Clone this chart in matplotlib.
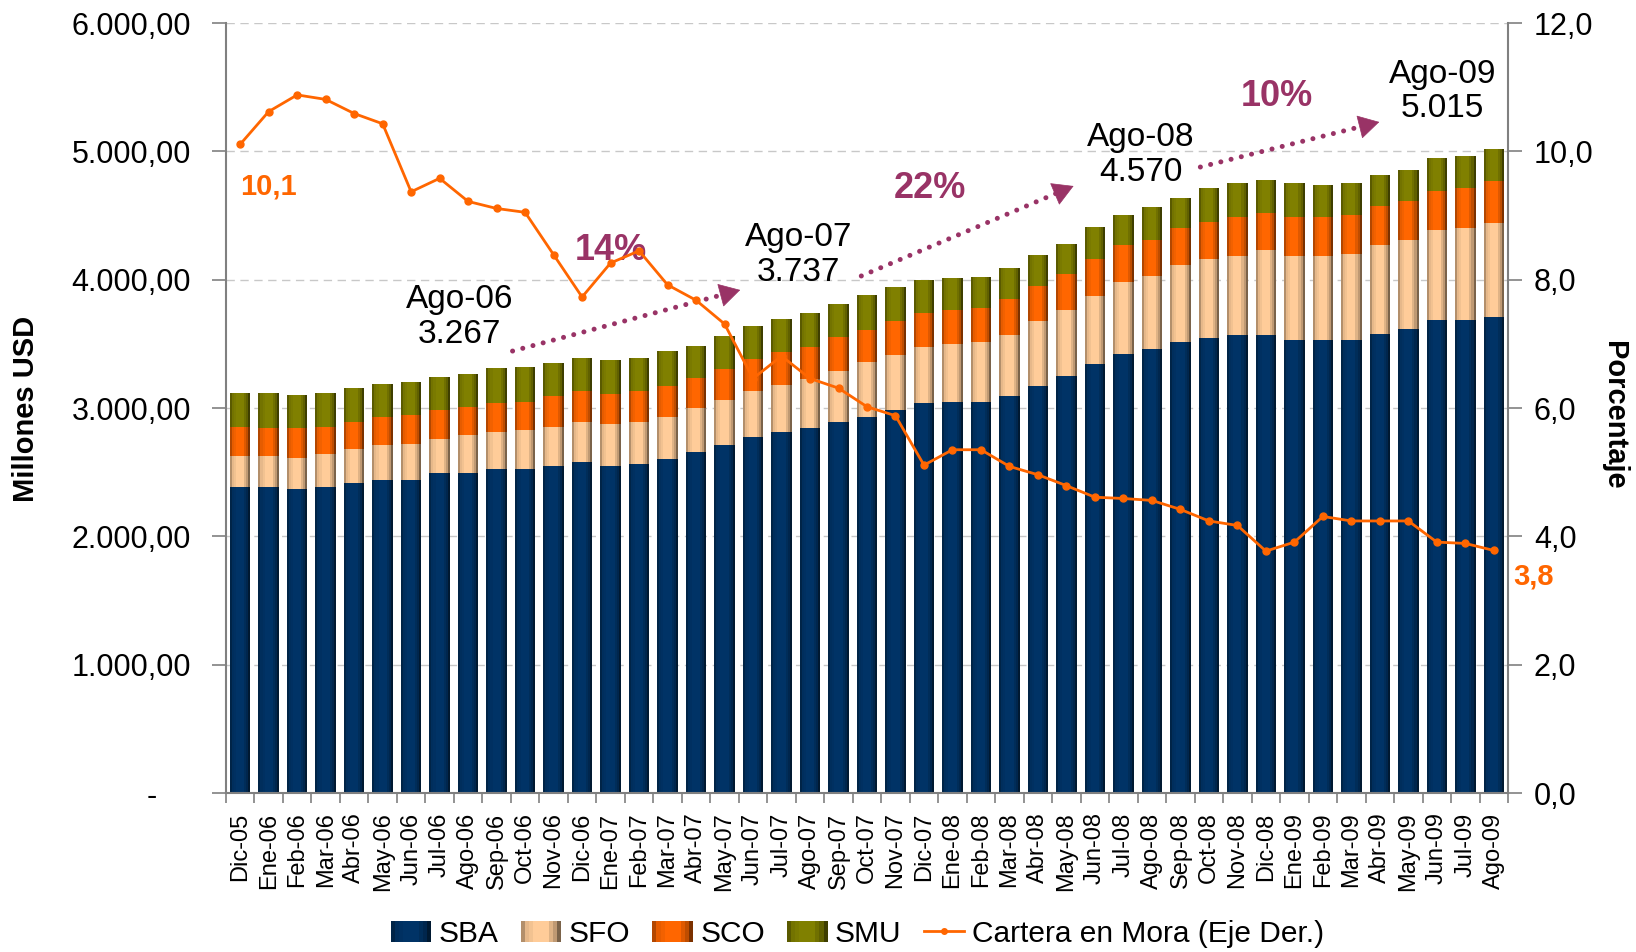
import matplotlib
matplotlib.use('Agg')
import matplotlib.pyplot as plt
import numpy as np
from matplotlib.colors import to_rgb
from matplotlib.legend_handler import HandlerBase
from matplotlib.patches import Rectangle
from matplotlib.lines import Line2D

plt.rcParams['font.family'] = ['Liberation Sans', 'DejaVu Sans']

months = ['Dic-05', 'Ene-06', 'Feb-06', 'Mar-06', 'Abr-06', 'May-06', 'Jun-06', 'Jul-06',
          'Ago-06', 'Sep-06', 'Oct-06', 'Nov-06', 'Dic-06', 'Ene-07', 'Feb-07', 'Mar-07',
          'Abr-07', 'May-07', 'Jun-07', 'Jul-07', 'Ago-07', 'Sep-07', 'Oct-07', 'Nov-07',
          'Dic-07', 'Ene-08', 'Feb-08', 'Mar-08', 'Abr-08', 'May-08', 'Jun-08', 'Jul-08',
          'Ago-08', 'Sep-08', 'Oct-08', 'Nov-08', 'Dic-08', 'Ene-09', 'Feb-09', 'Mar-09',
          'Abr-09', 'May-09', 'Jun-09', 'Jul-09', 'Ago-09']

# millones USD por subsistema
sba = [2381, 2381, 2366, 2381, 2412, 2443, 2443, 2490, 2497, 2528, 2528, 2552, 2582, 2552, 2567,
       2606, 2660, 2714, 2777, 2813, 2845, 2891, 2930, 2984, 3039, 3047, 3047, 3093, 3171, 3249,
       3342, 3420, 3459, 3513, 3544, 3567, 3567, 3527, 3527, 3527, 3574, 3613, 3683, 3683, 3706]
sfo = [248, 248, 247, 263, 271, 271, 279, 270, 294, 286, 302, 301, 310, 324, 325,
       324, 340, 348, 358, 366, 380, 397, 428, 428, 435, 450, 466, 474, 505, 513,
       528, 559, 567, 598, 614, 615, 662, 655, 655, 670, 694, 693, 701, 717, 733]
sco = [224, 216, 232, 209, 209, 216, 224, 225, 217, 225, 216, 240, 239, 232, 239,
       240, 232, 240, 246, 256, 249, 264, 248, 264, 264, 265, 264, 280, 272, 279,
       288, 288, 287, 288, 288, 303, 288, 304, 304, 304, 303, 304, 304, 312, 327]
smu = [263, 271, 256, 263, 263, 256, 255, 255, 259, 270, 271, 255, 256, 263, 256,
       271, 255, 258, 256, 257, 263, 256, 272, 264, 257, 248, 241, 241, 241, 241,
       249, 241, 257, 241, 265, 265, 256, 265, 249, 250, 242, 242, 257, 249, 249]

# cartera en mora (%)
mora = [10.11, 10.62, 10.88, 10.81, 10.59, 10.43, 9.37, 9.58, 9.22, 9.11, 9.05, 8.39, 7.73, 8.26,
        8.45, 7.92, 7.68, 7.31, 6.46, 6.81, 6.46, 6.31, 6.02, 5.88, 5.11, 5.35, 5.35, 5.09,
        4.96, 4.79, 4.61, 4.59, 4.56, 4.42, 4.24, 4.17, 3.77, 3.91, 4.31, 4.24, 4.24, 4.24,
        3.91, 3.89, 3.78]

seriesNames = ['SBA', 'SFO', 'SCO', 'SMU']
seriesColors = ['#003366', '#FFCC99', '#FF6600', '#808000']
lineColor = '#FF6600'
purple = '#993366'

milestones = ['Ago-06', 'Ago-07', 'Ago-08', 'Ago-09']
milestoneOffsets = [(-0.3, 440), (-0.4, 455), (-0.4, 400), (-1.8, 450)]
growthPos = [(13.0, 4231), (24.2, 4714), (36.4, 5424)]
arrowPos = [((9.56, 3444), (17.55, 3920)), ((21.8, 4029), (29.25, 4730)), ((33.7, 4878), (39.98, 5229))]

nStrips = 10
barWidth = 0.72


def shade(color, t):
    f = np.interp(t, [0, 0.15, 0.35, 0.65, 0.85, 1.0], [0.6, 0.9, 1.0, 1.0, 0.75, 0.35])
    r, g, b = to_rgb(color)
    return (r * f, g * f, b * f)


class GradientHandler(HandlerBase):
    def create_artists(self, legend, orig_handle, xdescent, ydescent, width, height, fontsize, trans):
        col = orig_handle.get_facecolor()
        arts = []
        sw = width / nStrips
        for k in range(nStrips):
            w = sw * 1.6 if k < nStrips - 1 else sw
            arts.append(Rectangle((-xdescent + k * sw, -ydescent), w, height,
                                  facecolor=shade(col, (k + 0.5) / nStrips), linewidth=0, transform=trans))
        return arts


def fmtMiles(v):
    return '{:,.0f}'.format(v).replace(',', '.')


fig = plt.figure(figsize=(16.36, 9.52), dpi=100)
ax = fig.add_axes([0.1381, 0.167, 0.7837, 0.8088])
ax2 = ax.twinx()

x = np.arange(len(months))
bottom = np.zeros(len(months))
for vals, col in zip([sba, sfo, sco, smu], seriesColors):
    vals = np.array(vals, dtype=float)
    sw = barWidth / nStrips
    for k in range(nStrips):
        w = sw * 1.6 if k < nStrips - 1 else sw
        ax.bar(x - barWidth / 2 + k * sw, vals, w, bottom=bottom, align='edge',
               color=shade(col, (k + 0.5) / nStrips), linewidth=0, zorder=2)
    bottom += vals
totals = bottom

ax2.plot(x, mora, color=lineColor, linewidth=2, marker='o', markersize=5, zorder=5)

ax.set_xlim(-0.5, len(months) - 0.5)
ax.set_ylim(0, 6000)
ax2.set_ylim(0, 12)

ax.yaxis.grid(True, color='#C8C8C8', linestyle=(0, (6, 4)), linewidth=1)
ax.set_axisbelow(True)

yt = np.arange(0, 6001, 1000)
ax.set_yticks(yt)
ax.set_yticklabels(['-    ' if v == 0 else '{:,.2f}'.format(v).replace(',', 'X').replace('.', ',').replace('X', '.') for v in yt])
ax.tick_params(axis='y', direction='out', length=10, width=1.2, color='#808080', pad=15, labelsize=22)

yt2 = np.arange(0, 12.1, 2)
ax2.set_yticks(yt2)
ax2.set_yticklabels(['{:.1f}'.format(v).replace('.', ',') for v in yt2])
ax2.tick_params(axis='y', direction='out', length=10, width=1.2, color='#808080', pad=8.5, labelsize=22)

ax.set_xticks(x)
ax.set_xticklabels(months, rotation=90)
ax.set_xticks(np.arange(-0.5, len(months), 1), minor=True)
ax.tick_params(axis='x', which='major', length=0, pad=14, labelsize=17)
ax.tick_params(axis='x', which='minor', length=7, width=1.2, direction='out', color='#808080')

for s in ['top', 'right']:
    ax.spines[s].set_visible(False)
for s in ['top', 'left', 'bottom']:
    ax2.spines[s].set_visible(False)
for sp in [ax.spines['left'], ax.spines['bottom'], ax2.spines['right']]:
    sp.set_color('#808080')
    sp.set_linewidth(1.5)

# etiquetas de hitos
for name, (dx, dy) in zip(milestones, milestoneOffsets):
    i = months.index(name)
    ax.text(i + dx, totals[i] + dy, name + '\n' + fmtMiles(totals[i]), ha='center', va='center',
            fontsize=24, linespacing=1.15, zorder=6)

# crecimiento entre hitos
for k in range(len(milestones) - 1):
    a = totals[months.index(milestones[k])]
    b = totals[months.index(milestones[k + 1])]
    pct = round((b / a - 1) * 100)
    gx, gy = growthPos[k]
    ax.text(gx, gy, '{}%'.format(pct), ha='center', va='center', fontsize=26,
            fontweight='bold', color=purple, zorder=6)
    (x0, y0), (x1, y1) = arrowPos[k]
    xm = x0 + (x1 - x0) * 0.92
    ym = y0 + (y1 - y0) * 0.92
    ax.plot([x0, xm], [y0, ym], color=purple, linewidth=3.6, linestyle=(0, (0.01, 2.1)),
            dash_capstyle='round', zorder=6)
    ax.annotate('', xy=(x1, y1), xytext=(xm, ym),
                arrowprops=dict(arrowstyle='-|>,head_length=0.7,head_width=0.4', color=purple,
                                lw=0.5, mutation_scale=20, shrinkA=0, shrinkB=0), zorder=6)

ax2.text(0.98, mora[0] - 0.65, '{:.1f}'.format(mora[0]).replace('.', ','), ha='center', va='center',
         fontsize=21, fontweight='bold', color=lineColor)
ax2.text(len(months) - 1 + 1.4, mora[-1] - 0.41, '{:.1f}'.format(mora[-1]).replace('.', ','),
         ha='center', va='center', fontsize=21, fontweight='bold', color=lineColor, clip_on=False)

fig.text(26 / 1636, 1 - 409 / 952, 'Millones USD', rotation=90, fontsize=21, fontweight='bold',
         ha='center', va='center')
fig.text(1614 / 1636, 1 - 415 / 952, 'Porcentaje', rotation=270, fontsize=21, fontweight='bold',
         ha='center', va='center')

handles = [Rectangle((0, 0), 1, 1, facecolor=c) for c in seriesColors]
handles.append(Line2D([], [], color=lineColor, marker='o', markersize=4, linewidth=2))
labels = seriesNames + ['Cartera en Mora (Eje Der.)']
fig.legend(handles, labels, loc='center', bbox_to_anchor=(0.524, 0.019), ncol=5, frameon=False,
           fontsize=21.5, handlelength=1.35, handleheight=0.7, handletextpad=0.25, columnspacing=0.75,
           handler_map={Rectangle: GradientHandler()})

fig.savefig('out.png', dpi=100)
